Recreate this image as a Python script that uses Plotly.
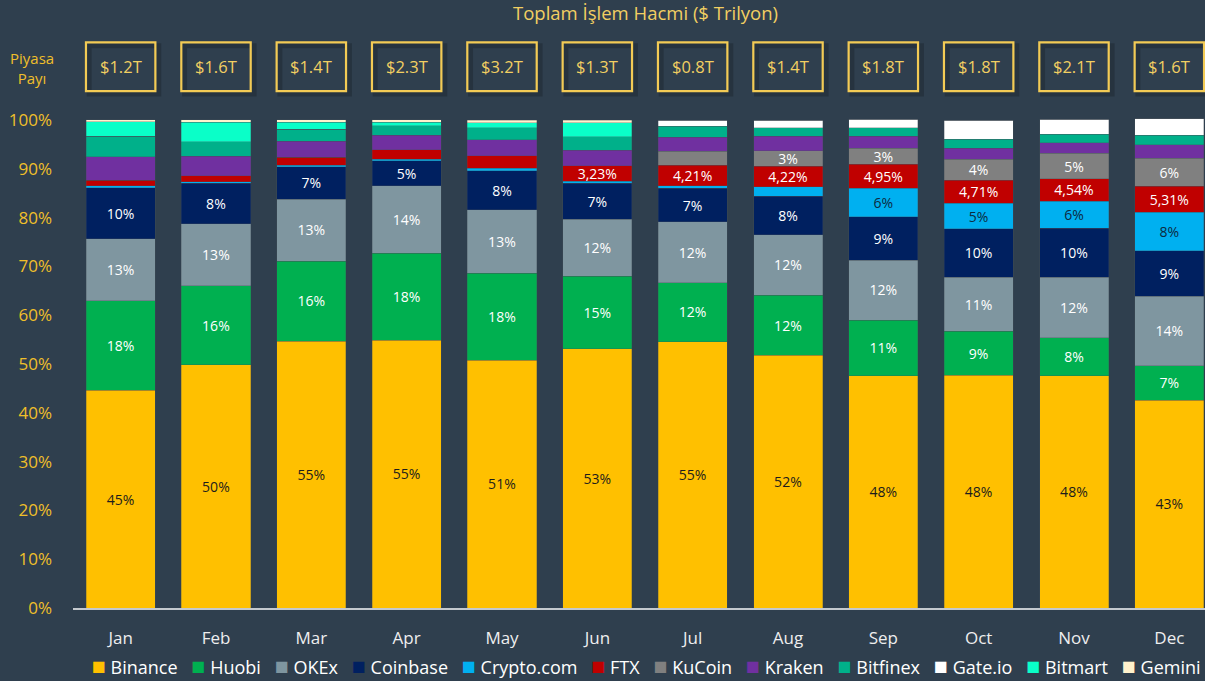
import plotly.graph_objects as go

months = ["Jan", "Feb", "Mar", "Apr", "May", "Jun", "Jul", "Aug", "Sep", "Oct", "Nov", "Dec"]
totals = [1.2, 1.6, 1.4, 2.3, 3.2, 1.3, 0.8, 1.4, 1.8, 1.8, 2.1, 1.6]

binance = [44.6, 49.8, 54.7, 54.9, 50.8, 53.1, 54.6, 51.8, 47.6, 47.7, 47.6, 42.6]
huobi = [18.4, 16.2, 16.4, 17.8, 17.8, 14.9, 12.1, 12.3, 11.4, 9.0, 7.8, 7.0]
okex = [12.7, 12.7, 12.7, 13.8, 13.0, 11.7, 12.4, 12.4, 12.3, 11.1, 12.4, 14.3]
coinbase = [10.4, 8.3, 6.6, 5.1, 8.0, 7.3, 6.9, 7.9, 8.9, 9.9, 10.0, 9.3]
cryptocom = [0.4, 0.35, 0.35, 0.35, 0.55, 0.4, 0.55, 1.9, 5.8, 5.2, 5.6, 7.9]
ftx = [1.2, 1.2, 1.6, 2.0, 2.5, 3.23, 4.21, 4.22, 4.95, 4.71, 4.54, 5.31]
kucoin = [0, 0, 0, 0, 0, 0, 2.8, 3.2, 3.3, 4.3, 5.2, 5.8]
kraken = [4.8, 4.0, 3.3, 2.9, 3.3, 3.2, 2.9, 2.9, 2.4, 2.3, 2.2, 2.7]
bitfinex = [4.2, 3.0, 2.5, 2.0, 2.5, 2.7, 2.3, 1.8, 1.8, 1.8, 1.7, 2.0]
gateio = [0, 0, 0, 0, 0, 0, 1.2, 1.5, 1.7, 3.9, 3.1, 3.3]
bitmart = [2.9, 4.0, 1.4, 0.7, 1.0, 2.9, 0, 0, 0, 0, 0, 0]
gemini = [0.5, 0.5, 0.5, 0.5, 0.5, 0.5, 0, 0, 0, 0, 0, 0]

BG = "#2f3f4e"
GOLD = "#f0bf2a"
PALE_GOLD = "#f2cf62"
FONT = "Open Sans"

# (name, values, color, label mode, label color)
series = [
    ("Binance", binance, "#FFC000", "int", "#1c1c1c"),
    ("Huobi", huobi, "#00B050", "int", "#ffffff"),
    ("OKEx", okex, "#7F96A0", "int", "#ffffff"),
    ("Coinbase", coinbase, "#002060", "int", "#ffffff"),
    ("Crypto.com", cryptocom, "#00B0F0", "int3", "#0d2a40"),
    ("FTX", ftx, "#C00000", "dec3", "#ffffff"),
    ("KuCoin", kucoin, "#808080", "int3", "#ffffff"),
    ("Kraken", kraken, "#7030A0", None, "#ffffff"),
    ("Bitfinex", bitfinex, "#00B08A", None, "#ffffff"),
    ("Gate.io", gateio, "#FFFFFF", None, "#ffffff"),
    ("Bitmart", bitmart, "#0AFFC8", None, "#ffffff"),
    ("Gemini", gemini, "#FFF2CC", None, "#ffffff"),
]


def label(v, mode):
    if mode == "int":
        return f"{round(v)}%"
    if mode == "int3":
        return f"{round(v)}%" if v >= 3 else ""
    if mode == "dec3":
        return f"{v:.2f}%".replace(".", ",") if v >= 3 else ""
    return ""


fig = go.Figure()
for name, vals, color, mode, tcol in series:
    fig.add_trace(go.Bar(
        x=months, y=vals, name=name,
        marker=dict(color=color, line=dict(color="rgba(70,80,90,0.6)", width=0.5)),
        text=[label(v, mode) for v in vals],
        textposition="inside", insidetextanchor="middle", textangle=0,
        textfont=dict(color=tcol, size=15.5, family=FONT),
        hoverinfo="name+y",
    ))

# total volume boxes
for i, t in enumerate(totals):
    fig.add_shape(type="rect", xref="x", yref="y", x0=i - 0.33, x1=i + 0.40,
                  y0=105.3, y1=115.2, line=dict(color="rgba(0,0,0,0.18)", width=5),
                  fillcolor="rgba(0,0,0,0)")
    fig.add_shape(type="rect", xref="x", yref="y", x0=i - 0.364, x1=i + 0.364,
                  y0=105.9, y1=115.9, line=dict(color="#f3cb55", width=2.2),
                  fillcolor="rgba(0,0,0,0)")
    fig.add_annotation(x=i, y=110.9, xref="x", yref="y", text=f"${t}T",
                       showarrow=False, font=dict(color=PALE_GOLD, size=16.5, family=FONT))

fig.add_annotation(xref="paper", yref="paper", x=0.5, y=1.0, yanchor="bottom",
                   text="Toplam İşlem Hacmi ($ Trilyon)", showarrow=False, yshift=5,
                   xshift=6, font=dict(color=PALE_GOLD, size=18.5, family=FONT))
fig.add_annotation(xref="paper", yref="y", x=-0.036, xanchor="center", y=110.6,
                   text="Piyasa<br>Payı", showarrow=False,
                   font=dict(color=GOLD, size=15, family=FONT))

# legend drawn as one text line (it runs past the right edge, like the reference)
sp = "\u00a0"
legend_text = (sp * 3).join(
    f"<span style='color:{c};font-size:23px'>■</span>{sp}{n}" for n, _, c, _, _ in series
)
fig.add_annotation(xref="paper", yref="paper", x=(90 - 73) / 1132, xanchor="left",
                   y=-0.106, yanchor="middle", yshift=4, text=legend_text, showarrow=False,
                   align="left", font=dict(color="#ffffff", size=18, family=FONT))

fig.update_layout(
    width=1205, height=681,
    barmode="stack", bargap=0.276,
    paper_bgcolor=BG, plot_bgcolor=BG,
    margin=dict(l=73, r=0, t=32, b=73),
    font=dict(family=FONT, color="#ffffff"),
    uniformtext=dict(minsize=14, mode="show"),
    showlegend=False,
    xaxis=dict(range=[-0.5, 11.374], showgrid=False, showline=True, linecolor="#c4c9ce",
               linewidth=1.5, tickfont=dict(size=17, color="#eeeeee", family=FONT),
               ticks="", ticklabelstandoff=14, zeroline=False),
    yaxis=dict(range=[0, 118.03], tickvals=[0, 10, 20, 30, 40, 50, 60, 70, 80, 90, 100],
               ticktext=[f"{v}%" for v in range(0, 101, 10)], showgrid=False,
               zeroline=False, showline=False, ticks="", ticklabelstandoff=20,
               tickfont=dict(size=17, color=GOLD, family=FONT)),
)

fig.write_html("out.html", config={"displayModeBar": False},
               post_script="document.body.style.margin='0';")
